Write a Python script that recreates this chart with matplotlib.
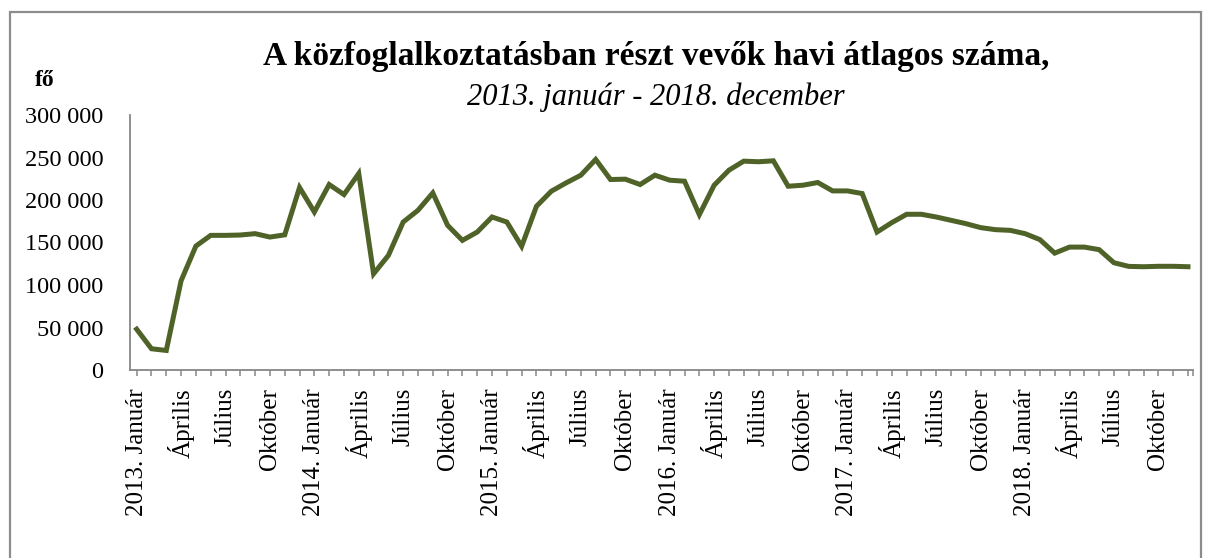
# A közfoglalkoztatásban részt vevők havi átlagos száma (2013-2018)

import numpy as np
import matplotlib.pyplot as plt
import matplotlib.patches as patches
from matplotlib.ticker import FuncFormatter

# havi adatok (fő), 2013. január - 2018. december
ev_2013 = [48000, 25000, 23000, 105000, 145800, 158400, 158400, 158800, 160400, 156400, 159000, 214700]
ev_2014 = [185900, 218200, 206400, 231200, 113200, 134800, 174100, 187900, 208300, 170200, 152500, 162300]
ev_2015 = [180000, 174100, 145500, 192600, 210300, 220100, 229200, 247700, 224100, 224500, 218200, 229200]
ev_2016 = [223300, 222100, 182800, 217400, 235100, 245700, 245000, 246100, 216200, 217400, 220600, 210700]
ev_2017 = [210700, 207600, 162300, 173400, 183200, 183200, 180000, 176100, 172200, 167500, 165100, 164300]
ev_2018 = [160400, 153400, 137500, 144600, 144600, 141600, 126200, 121900, 121500, 122000, 122000, 121500]
ertekek = ev_2013 + ev_2014 + ev_2015 + ev_2016 + ev_2017 + ev_2018

evek = ['2013', '2014', '2015', '2016', '2017', '2018']
honapok = ['Január', 'Április', 'Július', 'Október']

# tengelyfeliratok negyedévente
cimkek = []
for ev in evek:
    for h in honapok:
        cimkek.append(ev + '. ' + h if h == 'Január' else h)

plt.rcParams['font.family'] = ['Liberation Serif', 'DejaVu Serif']

fig = plt.figure(figsize=(12.06, 5.58), dpi=100)
ax = fig.add_axes([130/1206, 1-370/558, (1193-130)/1206, (370-115)/558])

x = np.arange(len(ertekek))
ax.plot(x, ertekek, color='#4f6228', linewidth=3.6, solid_joinstyle='miter')

# tengelyek
ax.set_xlim(-0.45, len(ertekek) - 1 + 0.34)
ax.set_ylim(0, 300000)
ax.set_yticks(np.arange(0, 300001, 50000))
ax.yaxis.set_major_formatter(FuncFormatter(lambda v, p: f'{int(v):,}'.replace(',', ' ')))
ax.set_xticks(np.arange(0, len(ertekek), 3))
ax.set_xticklabels(cimkek, rotation=90)
ax.set_xticks(list(np.arange(len(ertekek))) + [len(ertekek) - 1 + 0.34], minor=True)

for s in ['top', 'right']:
    ax.spines[s].set_visible(False)
for s in ['left', 'bottom']:
    ax.spines[s].set_color('#868686')
    ax.spines[s].set_linewidth(1.3)

ax.tick_params(axis='y', length=0, pad=19, labelsize=17.5)
ax.tick_params(axis='x', which='both', direction='out', length=4, width=1.1,
               color='#868686', labelsize=18, pad=9)

# címek
fig.text(656/1206, 1-57/558, 'A közfoglalkoztatásban részt vevők havi átlagos száma,',
         ha='center', va='center', fontsize=24, fontweight='bold')
fig.text(656/1206, 1-97/558, '2013. január - 2018. december',
         ha='center', va='center', fontsize=22, fontstyle='italic')
fig.text(45/1206, 1-81/558, 'fő', ha='center', va='center', fontsize=17, fontweight='bold')

# keret
keret = patches.Rectangle((10/1206, -0.1), (1201-10)/1206, 1.1 - 12/558,
                          transform=fig.transFigure, fill=False,
                          edgecolor='#8c8c8c', linewidth=1.6)
fig.patches.append(keret)

fig.savefig('out.png', dpi=100)
